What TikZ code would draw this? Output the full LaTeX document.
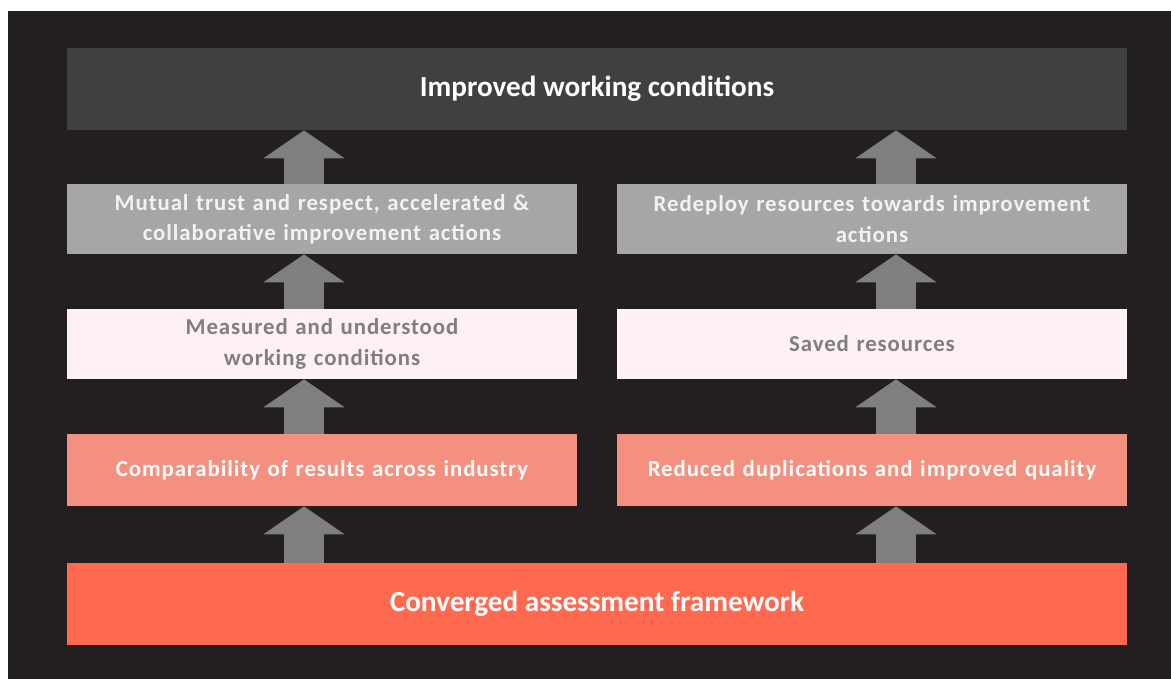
\documentclass[tikz,border=0pt]{standalone}
\usepackage{fontspec}
\setmainfont{Carlito}
\newfontfamily\rowfont{Carlito}[LetterSpace=4]
\usepackage{xcolor}
\usetikzlibrary{arrows.meta}

\definecolor{bgdark}{HTML}{231F20}
\definecolor{goalgray}{HTML}{404040}
\definecolor{midgray}{HTML}{A6A6A6}
\definecolor{palepink}{HTML}{FDF0F6}
\definecolor{salmon}{HTML}{F4907F}
\definecolor{tomato}{HTML}{FF6950}
\definecolor{arrowgray}{HTML}{7F7F7F}

\tikzset{
    widebox/.style={rectangle, inner sep=0pt, minimum width=21.2cm, minimum height=1.64cm, text=white, font=\bfseries\fontsize{16.6}{20}\selectfont},
    rowbox/.style={rectangle, inner sep=0pt, minimum width=10.2cm, minimum height=1.4cm, text width=10cm, align=center, font=\rowfont\bfseries\fontsize{13}{17.2}\selectfont},
    uparrow/.style={draw=arrowgray, line width=0.8cm, -{Triangle[width=1.6cm, length=0.56cm]}}
}

\begin{document}
\begin{tikzpicture}[x=0.02cm, y=-0.02cm]
    \useasboundingbox (0,0) rectangle (1171,679);
    \fill[bgdark] (8,11) rectangle (1171,679);

    \node[widebox, fill=goalgray] (goal) at (597,89) {Improved working conditions};

    \node[rowbox, fill=midgray, text=white!95!black] (trust) at (322,219) {Mutual trust and respect, accelerated \&\\ collaborative improvement actions};
    \node[rowbox, fill=midgray, text=white!95!black] (redeploy) at (872,219) {Redeploy resources towards improvement\\ actions};

    \node[rowbox, fill=palepink, text=arrowgray] (measured) at (322,344) {Measured and understood\\ working conditions};
    \node[rowbox, fill=palepink, text=arrowgray] (saved) at (872,344) {Saved resources};

    \node[rowbox, fill=salmon, minimum height=1.44cm, text=white!96!salmon] (compare) at (322,470) {Comparability of results across industry};
    \node[rowbox, fill=salmon, minimum height=1.44cm, text=white!96!salmon] (reduced) at (872,470) {Reduced duplications and improved quality};

    \node[widebox, fill=tomato] (framework) at (597,604) {Converged assessment framework};

    % arrow columns
    \coordinate (leftcol) at (304,0);
    \coordinate (rightcol) at (896,0);

    \draw[uparrow] (framework.north -| leftcol) -- (compare.south -| leftcol);
    \draw[uparrow] (compare.north -| leftcol) -- (measured.south -| leftcol);
    \draw[uparrow] (measured.north -| leftcol) -- (trust.south -| leftcol);
    \draw[uparrow] (trust.north -| leftcol) -- (goal.south -| leftcol);

    \draw[uparrow] (framework.north -| rightcol) -- (reduced.south -| rightcol);
    \draw[uparrow] (reduced.north -| rightcol) -- (saved.south -| rightcol);
    \draw[uparrow] (saved.north -| rightcol) -- (redeploy.south -| rightcol);
    \draw[uparrow] (redeploy.north -| rightcol) -- (goal.south -| rightcol);
\end{tikzpicture}
\end{document}
